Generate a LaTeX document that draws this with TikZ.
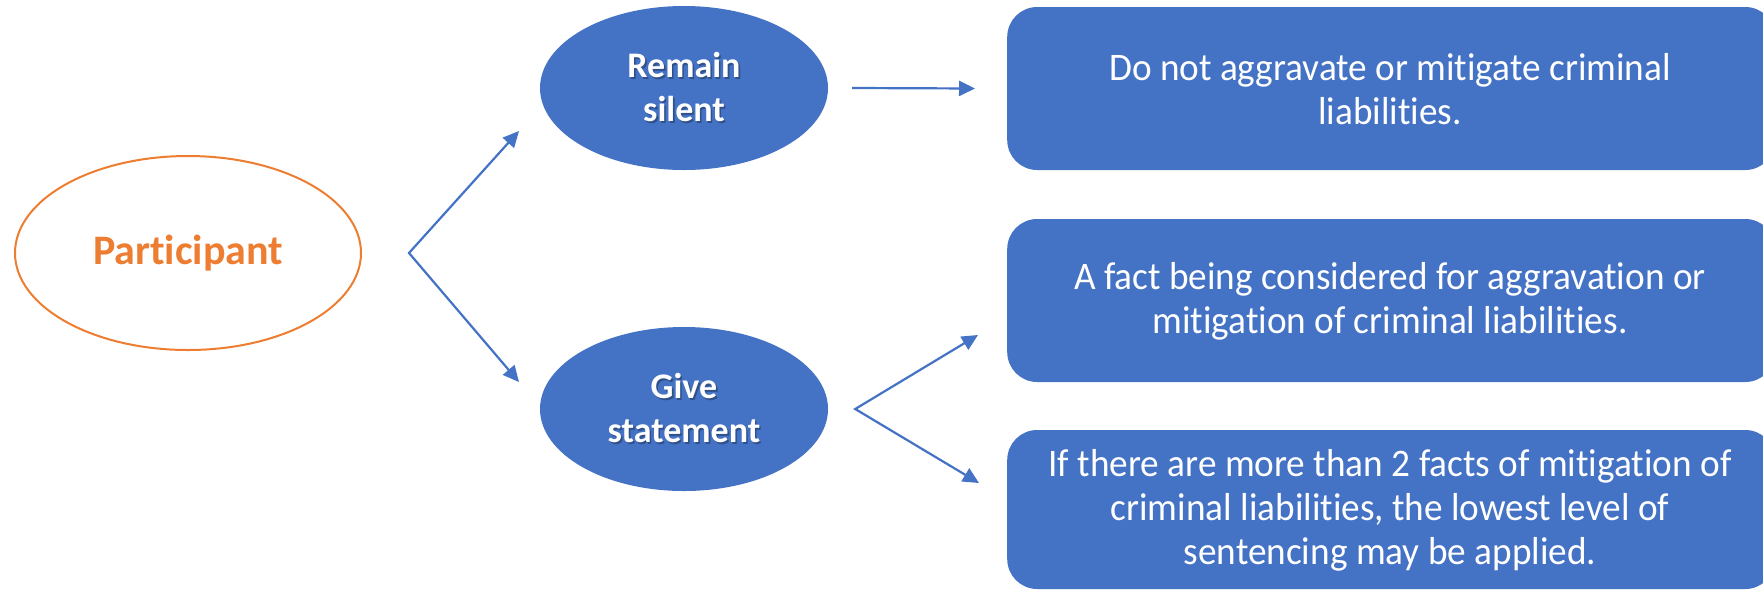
\documentclass[tikz,border=0pt]{standalone}
\usepackage{fontspec}
\setmainfont{Carlito}[Ligatures={NoCommon,NoContextual}]
\newfontfamily\narrowfont{Carlito}[Ligatures={NoCommon,NoContextual}, FakeStretch=0.955]
\usetikzlibrary{arrows.meta,shapes.geometric}

\definecolor{accentblue}{HTML}{4472C4}
\definecolor{accentorange}{HTML}{ED7D31}
\definecolor{textshade}{HTML}{30508A}

% white label with a soft drop shadow underneath
\newcommand\shtext[1]{\rlap{\kern1.6pt\raisebox{-1.6pt}{\color{textshade}#1}}#1}

\tikzset{
  choice/.style={ellipse, fill=accentblue, draw=none, inner sep=0pt,
    minimum width=288pt, minimum height=164pt, text=white, align=center,
    font=\fontsize{36}{44}\selectfont\bfseries},
  person/.style={ellipse, draw=accentorange, line width=2pt, fill=white, inner sep=0pt,
    minimum width=346pt, minimum height=194pt, text=accentorange,
    font=\fontsize{42}{48}\selectfont\bfseries},
  outcome/.style={rectangle, rounded corners=30pt, fill=accentblue, draw=none,
    inner sep=0pt},
  outtext/.style={text=white, align=center, inner sep=0pt,
    font=\narrowfont\fontsize{39}{44}\selectfont},
  arr/.style={draw=accentblue, line width=2.2pt,
    -{Triangle[length=16pt,width=15pt]}},
  arrboth/.style={draw=accentblue, line width=2.2pt, line join=miter,
    {Triangle[length=16pt,width=15pt]}-{Triangle[length=16pt,width=15pt]}},
}

\begin{document}
\begin{tikzpicture}[x=1pt,y=-1pt]
  \useasboundingbox (0,0) rectangle (1763,590);
  \fill[white] (0,0) rectangle (1763,590);

  % main nodes
  \node[person] (part) at (188,253) {Participant};
  \node[choice] (silent) at (684,88) {\shtext{Remain}\\\shtext{silent}};
  \node[choice] (stmt) at (684,409) {\shtext{Give}\\\shtext{statement}};

  % outcome boxes (running off the right edge)
  \node[outcome, minimum width=768pt, minimum height=163pt, anchor=west] (out1) at (1007,88.5) {};
  \node[outtext] (out1t) at (1390,89.5)
    {Do not aggravate or mitigate criminal\\liabilities.};
  \node[outcome, minimum width=768pt, minimum height=163pt, anchor=west] (out2) at (1007,300.5) {};
  \node[outtext] (out2t) at (1390,301.5)
    {A fact being considered for aggravation or\\mitigation of criminal liabilities.};
  \node[outcome, minimum width=768pt, minimum height=159pt, anchor=west] (out3) at (1007,509.5) {};
  \node[outtext] (out3t) at (1390,510.5)
    {If there are more than 2 facts of mitigation of\\criminal liabilities, the lowest level of\\sentencing may be applied.};

  % branching points and arrow ends
  \coordinate (fork1) at ([xshift=47pt]part.east);
  \coordinate (t1) at (519,131);
  \coordinate (t2) at (519,382);
  \coordinate (fork2) at ([xshift=27pt]stmt.east);
  \coordinate (t3) at (978,335);
  \coordinate (t4) at (979,483);

  % connectors
  \draw[arrboth] (t1) -- (fork1) -- (t2);
  \draw[arr] ([xshift=24pt]silent.east) -- ([xshift=-32pt]out1.west);
  \draw[arrboth] (t3) -- (fork2) -- (t4);
\end{tikzpicture}
\end{document}
